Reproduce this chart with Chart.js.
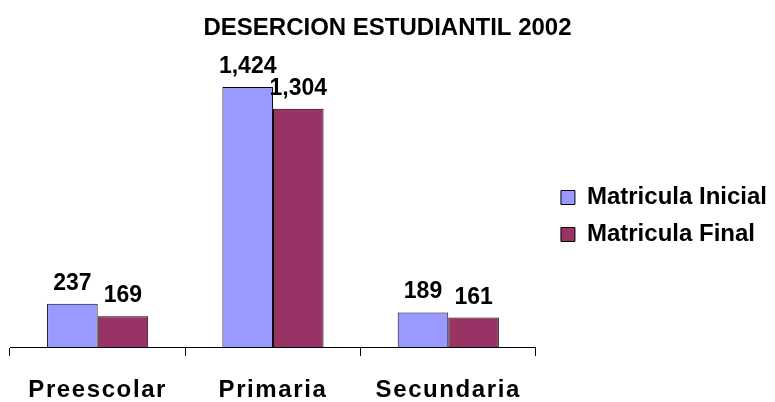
<!DOCTYPE html>
<html>
<head>
<meta charset="utf-8">
<script src="https://cdn.jsdelivr.net/npm/chart.js@4"></script>
<style>
html,body{margin:0;padding:0;background:#fff;}
#wrap{width:775px;height:402px;}
</style>
</head>
<body>
<div id="wrap"><canvas id="c" width="775" height="402"></canvas></div>
<script>
const categories = ['Preescolar', 'Primaria', 'Secundaria'];
const matriculaInicial = [237, 1424, 189];
const matriculaFinal = [169, 1304, 161];
const seriesNames = ['Matricula Inicial', 'Matricula Final'];
const titleText = 'DESERCION ESTUDIANTIL 2002';

const FONT = '"Liberation Sans", Arial, sans-serif';

const valueLabels = {
  id: 'valueLabels',
  afterDatasetsDraw(chart) {
    const ctx = chart.ctx;
    ctx.save();
    ctx.font = 'bold 23px ' + FONT;
    ctx.fillStyle = '#000';
    ctx.textAlign = 'center';
    ctx.textBaseline = 'alphabetic';
    chart.data.datasets.forEach((ds, i) => {
      chart.getDatasetMeta(i).data.forEach((bar, j) => {
        ctx.fillText(ds.data[j].toLocaleString('en-US'), bar.x, bar.y - 14);
      });
    });
    ctx.restore();
  }
};

const layoutTweaks = {
  id: 'layoutTweaks',
  afterLayout(chart) {
    const lg = chart.legend;
    if (lg) { lg.left += 12; lg.right += 12; lg.top += 4; lg.bottom += 4; }
    const sx = chart.scales.x;
    if (sx && !sx._spaced) {
      const orig = sx.drawLabels.bind(sx);
      sx.drawLabels = function (area) {
        const ctx = this.ctx;
        ctx.save();
        ctx.letterSpacing = '1.6px';
        orig(area);
        ctx.restore();
      };
      sx._spaced = true;
    }
  }
};

new Chart(document.getElementById('c'), {
  type: 'bar',
  data: {
    labels: categories,
    datasets: [
      { label: seriesNames[0], data: matriculaInicial, backgroundColor: '#9999FF', borderColor: '#000', borderWidth: 1 },
      { label: seriesNames[1], data: matriculaFinal, backgroundColor: '#993366', borderColor: '#000', borderWidth: 1 }
    ]
  },
  options: {
    responsive: false,
    animation: false,
    devicePixelRatio: 1,
    layout: { padding: { left: 10, right: 10, top: 0, bottom: -22 } },
    datasets: { bar: { categoryPercentage: 0.577, barPercentage: 1.0 } },
    plugins: {
      title: {
        display: true, text: titleText, color: '#000',
        font: { family: FONT, size: 24, weight: 'bold', lineHeight: 1.2 },
        padding: { top: 14, bottom: 12 }
      },
      legend: {
        position: 'right',
        labels: {
          color: '#000',
          font: { family: FONT, size: 24, weight: 'bold' },
          boxWidth: 14, boxHeight: 14, padding: 13
        }
      },
      tooltip: { enabled: false }
    },
    scales: {
      x: {
        grid: { display: true, drawOnChartArea: false, drawTicks: true, tickLength: 9, color: '#000', offset: true },
        border: { display: true, color: '#000', width: 1 },
        ticks: { color: '#000', font: { family: FONT, size: 24, weight: 'bold', lineHeight: 1.0 }, padding: 22 }
      },
      y: {
        display: false, min: 0, max: 1600
      }
    }
  },
  plugins: [valueLabels, layoutTweaks]
});
</script>
</body>
</html>
